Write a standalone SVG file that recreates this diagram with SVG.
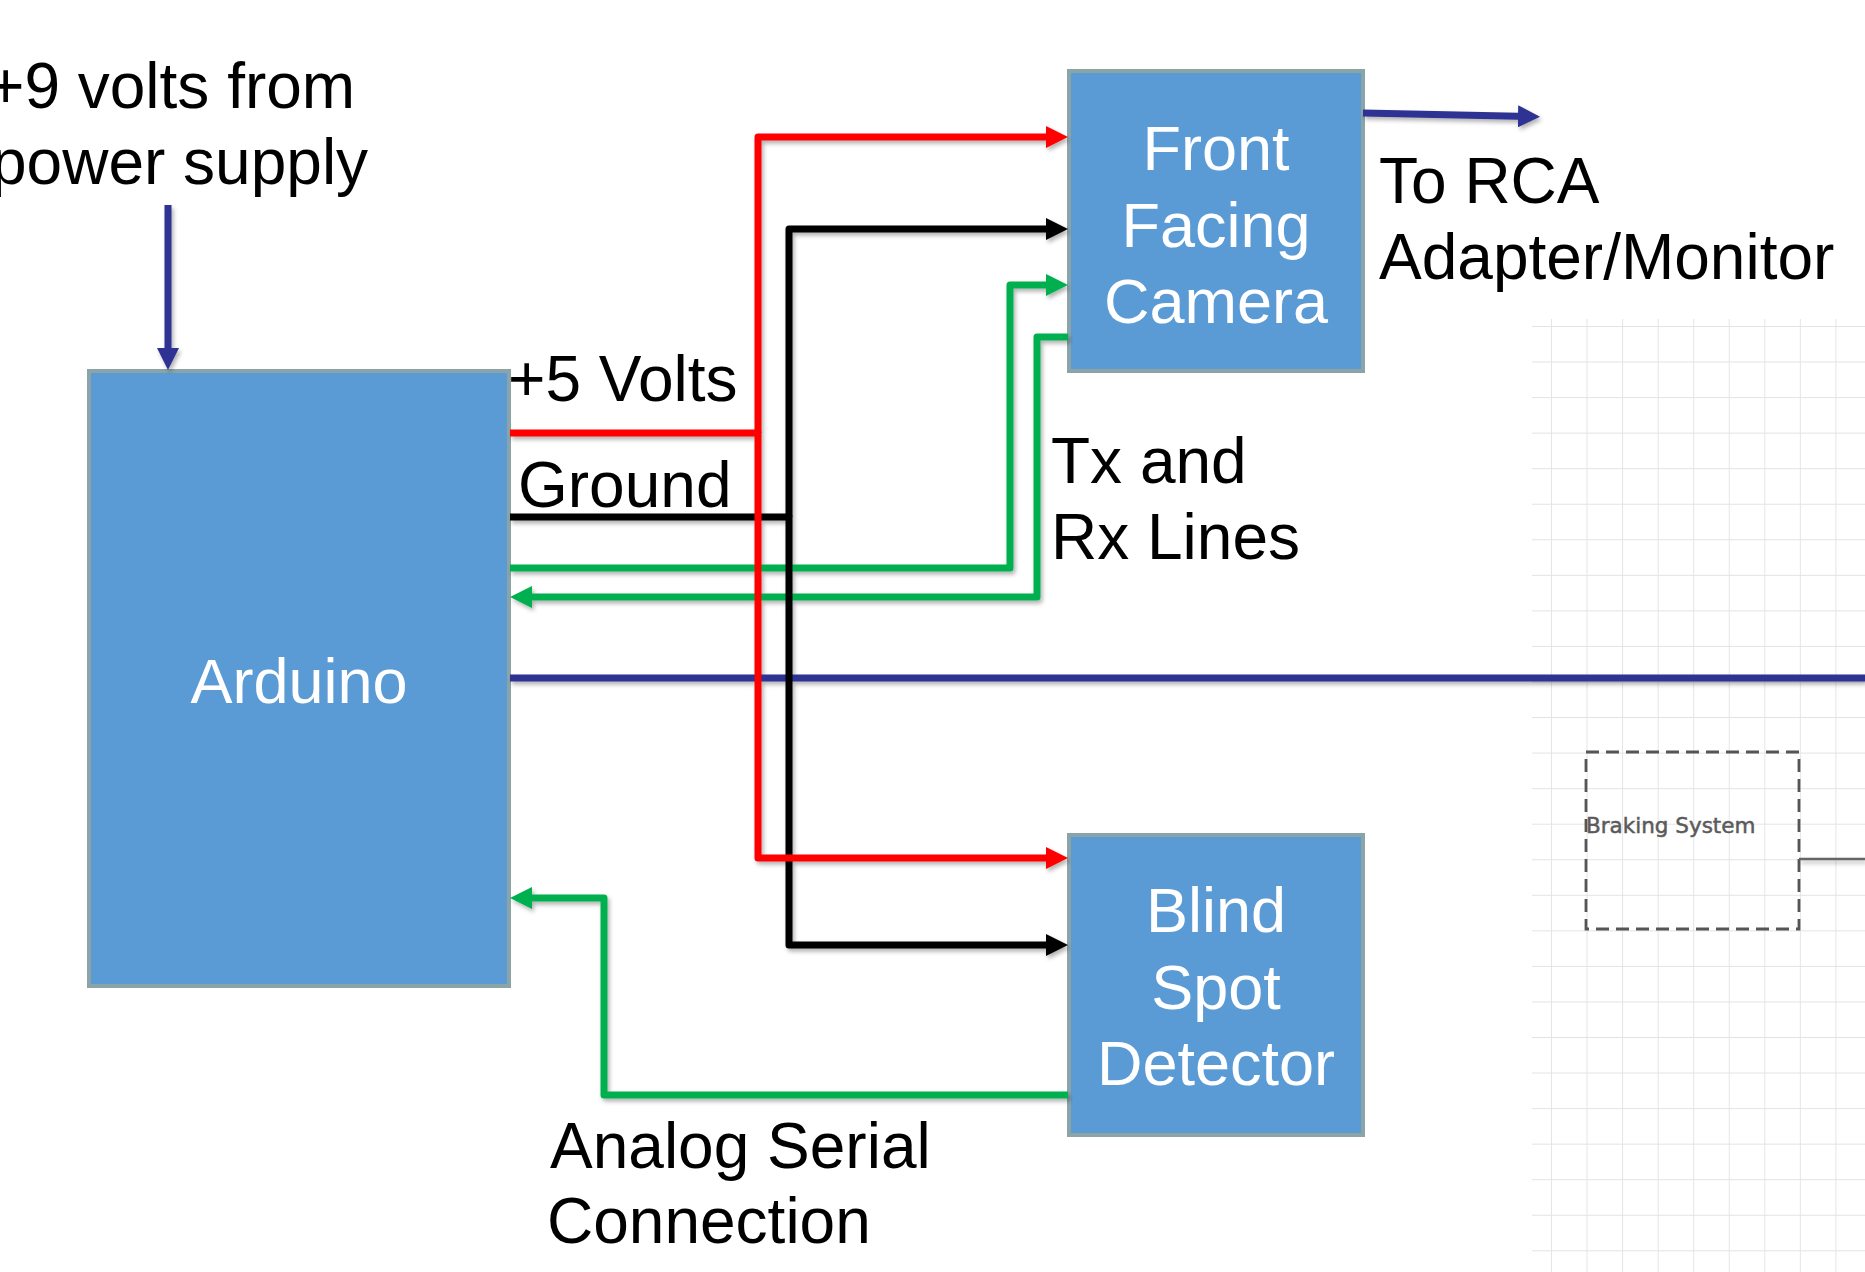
<svg xmlns="http://www.w3.org/2000/svg" width="1865" height="1272" viewBox="0 0 1865 1272">
<style>
.box{fill:#5B9BD5;stroke:#8AA4A7;stroke-width:4}
.bt{font-family:"Liberation Sans",Arial,sans-serif;font-size:63px;fill:#ffffff;text-anchor:middle}
.lbl{font-family:"Liberation Sans",Arial,sans-serif;font-size:64px;fill:#000000}
.w{fill:none;stroke-width:7;stroke-linejoin:round}
.red{stroke:#FF0000}
.blk{stroke:#000000}
.grn{stroke:#00B050}
.nav{stroke:#2E3192}
</style>
<defs>
<pattern id="grid" patternUnits="userSpaceOnUse" x="1551" y="326" width="35.55" height="35.55">
<path d="M0,0 V35.55 M0,0 H35.55" fill="none" stroke="#e3e3e3" stroke-width="1.8"/>
</pattern>
<filter id="sh" filterUnits="userSpaceOnUse" x="0" y="0" width="1865" height="1272">
<feDropShadow dx="2" dy="3" stdDeviation="2" flood-color="#000" flood-opacity="0.3"/>
</filter>
<marker id="aN" markerUnits="userSpaceOnUse" markerWidth="22" markerHeight="22" viewBox="0 0 22 22" refX="12" refY="11" orient="auto"><path d="M0,0 L22,11 L0,22 Z" fill="#2E3192"/></marker>
<marker id="aR" markerUnits="userSpaceOnUse" markerWidth="22" markerHeight="22" viewBox="0 0 22 22" refX="12" refY="11" orient="auto"><path d="M0,0 L22,11 L0,22 Z" fill="#FF0000"/></marker>
<marker id="aK" markerUnits="userSpaceOnUse" markerWidth="22" markerHeight="22" viewBox="0 0 22 22" refX="12" refY="11" orient="auto"><path d="M0,0 L22,11 L0,22 Z" fill="#000000"/></marker>
<marker id="aG" markerUnits="userSpaceOnUse" markerWidth="22" markerHeight="22" viewBox="0 0 22 22" refX="12" refY="11" orient="auto"><path d="M0,0 L22,11 L0,22 Z" fill="#00B050"/></marker>
</defs>
<rect width="1865" height="1272" fill="#ffffff"/>
<rect x="1532" y="319" width="333" height="953" fill="url(#grid)"/>

<g id="braking-system">
<rect x="1586" y="752" width="213" height="177" fill="none" stroke="#555555" stroke-width="2.8" stroke-dasharray="13,7"/>
<text x="1586" y="833" font-family="DejaVu Sans,sans-serif" font-size="21.5" fill="#5a5a5a" stroke="#5a5a5a" stroke-width="0.5">Braking System</text>
</g>

<g id="arduino">
<rect class="box" x="89" y="371" width="420" height="615"/>
<text class="bt" x="299" y="703">Arduino</text>
</g>
<g id="front-camera">
<rect class="box" x="1069" y="71" width="294" height="300"/>
<text class="bt" x="1216" y="170">Front</text>
<text class="bt" x="1216" y="246.5">Facing</text>
<text class="bt" x="1216" y="323">Camera</text>
</g>
<g id="blind-spot">
<rect class="box" x="1069" y="835" width="294" height="300"/>
<text class="bt" x="1216" y="932">Blind</text>
<text class="bt" x="1216" y="1009">Spot</text>
<text class="bt" x="1216" y="1085">Detector</text>
</g>

<g id="connectors" filter="url(#sh)">
<path d="M1799,859 H1865" fill="none" stroke="#666666" stroke-width="2.5"/>
<path class="w nav" d="M510,678 H1865"/>
<path class="w nav" d="M168,205 V360" marker-end="url(#aN)"/>
<path class="w nav" d="M1363,113 L1530,116.5" marker-end="url(#aN)"/>
<path class="w grn" d="M510,568 H1010 V285 H1058" marker-end="url(#aG)"/>
<path class="w grn" d="M1068,337 H1037 V597 H520" marker-end="url(#aG)"/>
<path class="w grn" d="M1068,1095 H604 V898 H520" marker-end="url(#aG)"/>
<path class="w blk" d="M789,517 V229 H1058" marker-end="url(#aK)"/>
<path class="w blk" d="M510,517 H789 V945 H1058" marker-end="url(#aK)"/>
<path class="w red" d="M758,433 V137 H1058" marker-end="url(#aR)"/>
<path class="w red" d="M510,433 H758 V858 H1058" marker-end="url(#aR)"/>
</g>

<g id="labels">
<text class="lbl" x="-13" y="108">+9 volts from</text>
<text class="lbl" x="-9" y="184">power supply</text>
<text class="lbl" x="508" y="401">+5 Volts</text>
<text class="lbl" x="518" y="507">Ground</text>
<text class="lbl" x="1051" y="483">Tx and</text>
<text class="lbl" x="1051" y="559">Rx Lines</text>
<text class="lbl" x="1379" y="203">To RCA</text>
<text class="lbl" x="1379" y="279">Adapter/Monitor</text>
<text class="lbl" x="550" y="1168">Analog Serial</text>
<text class="lbl" x="547" y="1243">Connection</text>
</g>
</svg>
